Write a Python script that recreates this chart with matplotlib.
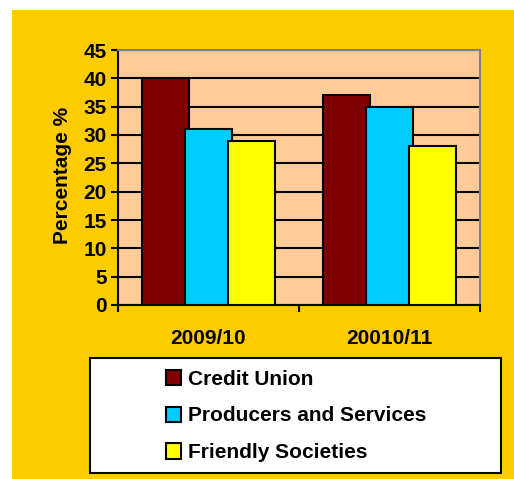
import numpy as np
import matplotlib
matplotlib.use("Agg")
import matplotlib.pyplot as plt
from matplotlib.patches import Rectangle, Patch

periods = ["2009/10", "20010/11"]
series = ["Credit Union", "Producers and Services", "Friendly Societies"]
credit_union = [40, 37]
producers = [31, 35]
friendly = [29, 28]
colors = ["#800000", "#00CCFF", "#FFFF00"]

plt.rcParams["font.family"] = ["Liberation Sans", "DejaVu Sans"]
plt.rcParams["font.weight"] = "bold"

W, H = 514, 479
fig = plt.figure(figsize=(W / 100, H / 100), dpi=100, facecolor="white")

# gold background panel
fig.patches.append(Rectangle((12 / W, 0), (W - 12) / W, (H - 10) / H,
                             transform=fig.transFigure, facecolor="#FFCC00",
                             edgecolor="none", zorder=-5))

ax = fig.add_axes([118 / W, (H - 305) / H, 362 / W, 255 / H])
ax.set_zorder(3)
ax.set_facecolor("#FFCC99")

x = np.arange(len(periods))
width = 0.26
step = 0.24
for k, (vals, c) in enumerate(zip([credit_union, producers, friendly], colors)):
    ax.bar(x + (k - 1) * step, vals, width, color=c, edgecolor="black",
           linewidth=1.5, zorder=3)

ax.set_xlim(-0.5, 1.5)
ax.set_ylim(0, 45)
ax.set_yticks(np.arange(0, 46, 5))
ax.yaxis.grid(True, color="black", linewidth=1.5, zorder=1)
ax.set_axisbelow(True)

ax.set_xticks([-0.5, 0.5, 1.5])
ax.set_xticklabels([])
ax.set_xticks(x, minor=True)
ax.set_xticklabels(periods, minor=True, fontsize=15, fontweight="bold")
ax.tick_params(axis="x", which="minor", length=0, pad=17)
ax.tick_params(axis="x", which="major", length=5, width=1.5, direction="out")
ax.tick_params(axis="y", length=5, width=1.5, direction="out", labelsize=15, pad=3)
for lab in ax.get_yticklabels():
    lab.set_fontweight("bold")

for s in ["left", "bottom"]:
    ax.spines[s].set_color("black")
    ax.spines[s].set_linewidth(1.5)
for s in ["top", "right"]:
    ax.spines[s].set_color("#808080")
    ax.spines[s].set_linewidth(1.5)

fig.text(62 / W, 1 - 175 / H, "Percentage %", rotation=90, ha="center",
         va="center", fontsize=15, fontweight="bold")

# legend box
fig.patches.append(Rectangle((90 / W, 1 - 473 / H), 411 / W, 115 / H,
                             transform=fig.transFigure, facecolor="white",
                             edgecolor="black", linewidth=1.5, zorder=1))
handles = [Patch(facecolor=c, edgecolor="black", linewidth=1.5) for c in colors]
leg = fig.legend(handles, series, loc="upper left",
                 bbox_to_anchor=(147 / W, 1 - 351 / H), frameon=False,
                 prop={"size": 15, "weight": "bold"}, handlelength=0.75,
                 handleheight=0.75, handletextpad=0.3, labelspacing=0.85)
leg.set_zorder(4)

fig.savefig("out.png", dpi=100, facecolor=fig.get_facecolor())
